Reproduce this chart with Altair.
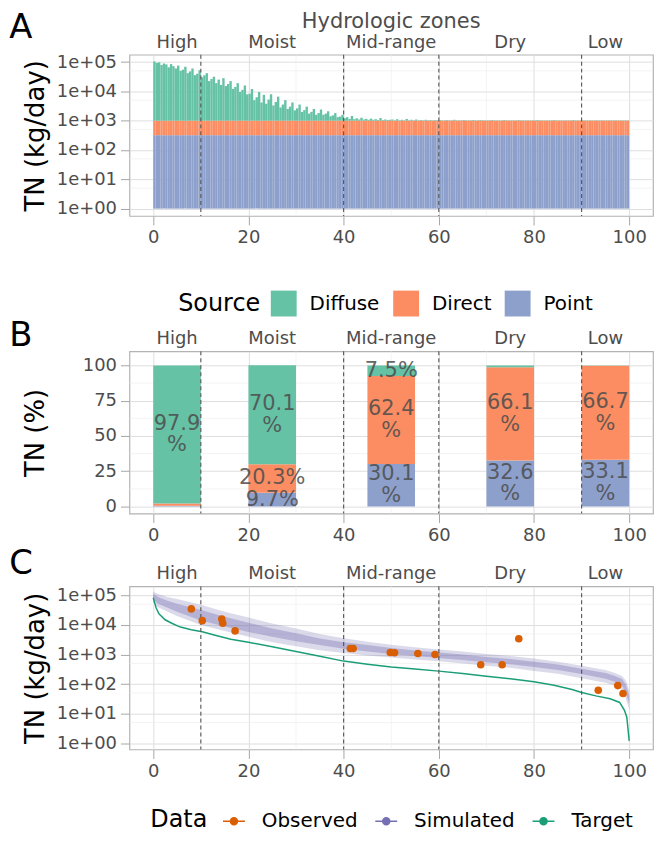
import altair as alt
import pandas as pd

# ---------------- data ----------------
zones = ["High", "Moist", "Mid-range", "Dry", "Low"]
zone_centers = [5, 25, 50, 75, 95]
zone_bounds = [10, 40, 60, 90]

x_major = [0, 20, 40, 60, 80, 100]
x_minor = [10, 30, 50, 70, 90]
log_major = [1, 10, 100, 1000, 10000, 100000]
log_minor = [5, 50, 500, 5000, 50000]
pct_major = [0, 25, 50, 75, 100]
pct_minor = [12.5, 37.5, 62.5, 87.5]

source_names = ["Diffuse", "Direct", "Point"]
source_colors = ["#66C2A5", "#FC8D62", "#8DA0CB"]

# Panel A: diffuse load top per half-percentile bin, as log10(kg/day)
bin_width = 0.5
diffuse_top_log10 = [
    5.02, 4.97, 4.99, 4.90, 4.95, 4.92, 4.82, 4.93, 4.86, 4.78,
    4.88, 4.70, 4.74, 4.84, 4.62, 4.68, 4.78, 4.55, 4.60, 4.72,
    4.48, 4.55, 4.62, 4.35, 4.42, 4.50, 4.28, 4.40, 4.22, 4.45,
    4.18, 4.25, 4.35, 4.08, 4.15, 4.28, 3.98, 4.05, 4.20, 3.90,
    3.92, 4.08, 3.70, 3.80, 3.98, 3.62, 3.88, 3.58, 3.72, 3.90,
    3.52, 3.64, 3.82, 3.45, 3.55, 3.70, 3.40, 3.48, 3.62, 3.35,
    3.42, 3.55, 3.30, 3.36, 3.48, 3.24, 3.30, 3.40, 3.20, 3.26,
    3.38, 3.20, 3.24, 3.32, 3.15, 3.18, 3.26, 3.12, 3.14, 3.20,
    3.08, 3.12, 3.06, 3.16, 3.05, 3.08, 3.04, 3.10, 3.04, 3.06,
    3.03, 3.07, 3.03, 3.05, 3.02, 3.09, 3.02, 3.04, 3.02, 3.03,
    3.04, 3.01, 3.05, 3.01, 3.03, 3.01, 3.06, 3.01, 3.03, 3.01,
    3.04, 3.01, 3.02, 3.01, 3.03, 3.01, 3.02, 3.01, 3.02, 3.01,
    3.02, 3.01, 3.01, 3.02, 3.01, 3.01, 3.03, 3.01, 3.01, 3.01,
    3.02, 3.01, 3.01, 3.01, 3.02, 3.01, 3.01, 3.02, 3.01, 3.01,
    3.01, 3.01, 3.02, 3.01, 3.01, 3.01, 3.01, 3.02, 3.01, 3.01,
    3.01, 3.01, 3.01, 3.02, 3.01, 3.01, 3.01, 3.01, 3.01, 3.01,
    3.01, 3.02, 3.01, 3.01, 3.01, 3.01, 3.01, 3.01, 3.02, 3.01,
    3.01, 3.01, 3.01, 3.01, 3.01, 3.01, 3.02, 3.01, 3.01, 3.01,
    3.01, 3.01, 3.01, 3.01, 3.01, 3.01, 3.01, 3.01, 3.01, 3.01,
    3.01, 3.01, 3.01, 3.01, 3.01, 3.01, 3.01, 3.01, 3.01, 3.01,
]
direct_top = 1000
point_top = 320
load_floor = 1

# Panel B: share of TN per zone (%)
point_share = [0.6, 9.7, 30.1, 32.6, 33.1]
direct_share = [1.5, 20.3, 62.4, 66.1, 66.7]
diffuse_share = [97.9, 70.1, 7.5, 1.3, 0.2]
point_label = ["", "9.7%", "30.1\n%", "32.6\n%", "33.1\n%"]
direct_label = ["", "20.3%", "62.4\n%", "66.1\n%", "66.7\n%"]
diffuse_label = ["97.9\n%", "70.1\n%", "7.5%", "", ""]

# Panel C
data_names = ["Observed", "Simulated", "Target"]
data_colors = ["#D95F02", "#7570B3", "#1B9E77"]
sim_pct = [0, 1, 3, 5, 10, 15, 20, 25, 30, 35, 40, 45, 50, 55, 60, 65, 70, 75, 80, 85,
           90, 95, 97, 98.5, 99.3, 100]
sim_low = [56000, 40000, 28000, 20000, 10000, 6300, 4000, 2600, 1900, 1410,
           1120, 930, 790, 680, 590, 500, 420, 355, 280, 224,
           158, 112, 89, 63, 32, 14]
sim_high = [132000, 112000, 89000, 76000, 48000, 28000, 17800, 11200, 7600, 5000,
            3550, 2700, 2140, 1780, 1480, 1260, 1050, 890, 740, 575,
            417, 302, 240, 190, 132, 63]
sim_core_low = [71000, 52000, 38000, 28000, 14100, 8900, 5800, 4000, 2800, 2100,
                1580, 1260, 1050, 890, 760, 660, 550, 470, 380, 300,
                219, 151, 120, 89, 50, 22]
sim_core_high = [112000, 89000, 66000, 52000, 32000, 19000, 12000, 7600, 5200, 3500,
                 2600, 2100, 1660, 1380, 1170, 1000, 830, 710, 575, 457,
                 331, 240, 190, 148, 95, 42]
target_pct = [0, 0.3, 0.6, 1.2, 2.5, 4, 5.7, 8, 10.3, 13,
              16.3, 20, 25, 30, 35, 40, 45, 50, 55, 60,
              65, 70, 75, 80, 84.2, 88, 90, 93, 96, 98,
              99, 99.5, 99.8, 100]
target_tn = [83000, 56000, 38000, 24000, 15000, 11200, 8500, 6900, 5900, 4500,
             3300, 2600, 1820, 1260, 870, 600, 470, 380, 324, 275,
             229, 186, 151, 120, 91, 66, 52, 40, 32, 24,
             13, 7.6, 2.5, 1.2]
obs_pct = [8.0, 10.3, 14.4, 14.6, 17.2, 41.4, 42.0, 49.8, 50.7, 55.6, 59.2,
           68.8, 73.3, 76.8, 93.5, 97.6, 98.7]
obs_tn = [35000, 14000, 16000, 11500, 6300, 1600, 1600, 1180, 1150, 1090, 1000,
          450, 450, 3400, 62, 89, 48]

# ---------------- styling ----------------
FONT = "DejaVu Sans"
GREY_TXT = "#4D4D4D"
W = 526
HA, HB, HC = 162, 163, 164
X_DOMAIN = [-5, 105]
A_DOMAIN = [10 ** -0.25, 10 ** 5.25]
B_DOMAIN = [-5, 110]
C_DOMAIN = [10 ** -0.21, 10 ** 5.31]
LOG_LABEL = "'1e+0' + format(log(datum.value) / LN10, '.0f')"
TITLE_X = -94
LETTER_X = -109


def x_enc(field):
    return alt.X(f"{field}:Q",
                 scale=alt.Scale(domain=X_DOMAIN, nice=False, zero=False),
                 axis=alt.Axis(values=x_major, format="d", title=None))


def make_y(domain, log, values, title, h):
    common = dict(values=values, title=title, titleX=TITLE_X, titleY=h / 2,
                  titleBaseline="middle", titleAlign="center")
    if log:
        scale = alt.Scale(type="log", domain=domain, nice=False)
        axis = alt.Axis(labelExpr=LOG_LABEL, **common)
    else:
        scale = alt.Scale(domain=domain, nice=False, zero=False)
        axis = alt.Axis(format="d", **common)

    def enc(field):
        return alt.Y(f"{field}:Q", scale=scale, axis=axis)
    return enc


def scaffold(y_enc, y_minor):
    xm = alt.Chart(pd.DataFrame({"gx": x_minor})).mark_rule(
        color="#EDEDED", strokeWidth=0.7).encode(x=x_enc("gx"))
    ym = alt.Chart(pd.DataFrame({"gy": y_minor})).mark_rule(
        color="#EDEDED", strokeWidth=0.7).encode(y=y_enc("gy"))
    return [xm, ym]


def overlays(letter, letter_y):
    dashes = alt.Chart(pd.DataFrame({"zb": zone_bounds})).mark_rule(
        color="#555555", strokeDash=[4, 3], strokeWidth=1.1).encode(x=x_enc("zb"))
    zl = alt.Chart(pd.DataFrame({"zc": zone_centers, "zone": zones})).mark_text(
        fontSize=18, color=GREY_TXT, baseline="middle", font=FONT).encode(
        x=x_enc("zc"), y=alt.value(-12), text="zone:N")
    let = alt.Chart(pd.DataFrame({"p": [letter]})).mark_text(
        fontSize=34, color="black", align="center", baseline="middle", font=FONT).encode(
        x=alt.value(LETTER_X), y=alt.value(letter_y), text="p:N")
    return dashes, zl, let


# ---------------- panel A ----------------
rows = []
for i, top_log in enumerate(diffuse_top_log10):
    x0, x1 = i * bin_width, (i + 1) * bin_width
    rows.append(dict(x0=x0, x1=x1, lo=load_floor, hi=point_top, Source="Point"))
    rows.append(dict(x0=x0, x1=x1, lo=point_top, hi=direct_top, Source="Direct"))
    rows.append(dict(x0=x0, x1=x1, lo=direct_top, hi=10 ** top_log, Source="Diffuse"))
dfA = pd.DataFrame(rows)

yA = make_y(A_DOMAIN, True, log_major, "TN (kg/day)", HA)
barsA = alt.Chart(dfA).mark_rect().encode(
    x=x_enc("x0"), x2="x1", y=yA("lo"), y2="hi",
    color=alt.Color("Source:N",
                    scale=alt.Scale(domain=source_names, range=source_colors),
                    legend=alt.Legend(orient="none", legendX=49, legendY=237,
                                      direction="horizontal", titleOrient="left",
                                      symbolType="square", symbolSize=676,
                                      symbolStrokeWidth=0, labelFontSize=20,
                                      titleFontSize=24, titleFontWeight="normal",
                                      titleColor="black", labelColor="black",
                                      titlePadding=10, labelOffset=13,
                                      columnPadding=13, titleBaseline="middle",
                                      titleAnchor="middle", labelFont=FONT,
                                      titleFont=FONT)))
dA, zA, lA = overlays("A", -27)
hydro = alt.Chart(pd.DataFrame({"t": ["Hydrologic zones"]})).mark_text(
    fontSize=21, color=GREY_TXT, baseline="middle", align="center", font=FONT).encode(
    x=alt.value(W / 2), y=alt.value(-33), text="t:N")
panel_a = alt.layer(*scaffold(yA, log_minor), barsA, dA, zA, lA, hydro).properties(
    width=W, height=HA)

# ---------------- panel B ----------------
brows = []
for z, c, p, d, f, pl, dl, fl in zip(zones, zone_centers, point_share, direct_share,
                                     diffuse_share, point_label, direct_label,
                                     diffuse_label):
    cum = 0.0
    for src, v, lbl in (("Point", p, pl), ("Direct", d, dl), ("Diffuse", f, fl)):
        brows.append(dict(zone=z, x0=c - 5, x1=c + 5, xc=c, lo=cum, hi=cum + v,
                          mid=cum + v / 2, Source=src, label=lbl,
                          lines=lbl.count("\n") + 1))
        cum += v
dfB = pd.DataFrame(brows)

yB = make_y(B_DOMAIN, False, pct_major, "TN (%)", HB)
barsB = alt.Chart(dfB).mark_rect().encode(
    x=x_enc("x0"), x2="x1", y=yB("lo"), y2="hi",
    color=alt.Color("Source:N",
                    scale=alt.Scale(domain=source_names, range=source_colors),
                    legend=None))
txt_style = dict(lineBreak="\n", fontSize=21, lineHeight=22, color="#4D4D4D",
                 opacity=0.85, baseline="middle", align="center", font=FONT)
text1 = alt.Chart(dfB[(dfB["label"] != "") & (dfB["lines"] == 1)]).mark_text(
    **txt_style).encode(x=x_enc("xc"), y=yB("mid"), text="label:N")
text2 = alt.Chart(dfB[dfB["lines"] == 2]).mark_text(dy=-11, **txt_style).encode(
    x=x_enc("xc"), y=yB("mid"), text="label:N")
dB, zB, lB = overlays("B", -15)
panel_b = alt.layer(*scaffold(yB, pct_minor), barsB, dB, text1, text2, zB, lB).properties(
    width=W, height=HB)

# ---------------- panel C ----------------
yC = make_y(C_DOMAIN, True, log_major, "TN (kg/day)", HC)
dfSim = pd.DataFrame({"pct": sim_pct, "low": sim_low, "high": sim_high,
                      "clow": sim_core_low, "chigh": sim_core_high})
dfTar = pd.DataFrame({"pct": target_pct, "tn": target_tn})
dfObs = pd.DataFrame({"pct": obs_pct, "tn": obs_tn})

sim = alt.Chart(dfSim).mark_area(color="#7570B3", opacity=0.26).encode(
    x=x_enc("pct"), y=yC("low"), y2="high")
sim_core = alt.Chart(dfSim).mark_area(color="#7570B3", opacity=0.38).encode(
    x=x_enc("pct"), y=yC("clow"), y2="chigh")
tar = alt.Chart(dfTar).mark_line(color="#1B9E77", strokeWidth=1.5).encode(
    x=x_enc("pct"), y=yC("tn"))
obs = alt.Chart(dfObs).mark_circle(color="#D95F02", opacity=1, size=58).encode(
    x=x_enc("pct"), y=yC("tn"))

LEG_PATH = "M-1,0H1M0.32,0A0.32,0.32 0 1,1 -0.32,0A0.32,0.32 0 1,1 0.32,0Z"
leg_params = dict(orient="none", legendX=21, legendY=224, direction="horizontal",
                  titleOrient="left", symbolType=LEG_PATH, symbolSize=484,
                  symbolStrokeWidth=1.5, labelFontSize=20, titleFontSize=24,
                  titleFontWeight="normal", titleColor="black", labelColor="black",
                  titlePadding=14, labelOffset=16, columnPadding=14,
                  titleBaseline="middle", titleAnchor="middle",
                  labelFont=FONT, titleFont=FONT, symbolOpacity=1)
legC = alt.Chart(pd.DataFrame({"Data": data_names})).mark_point(
    filled=True, opacity=1, size=40, clip=True).encode(
    x=alt.value(5), y=alt.value(-6),
    fill=alt.Fill("Data:N", scale=alt.Scale(domain=data_names, range=data_colors),
                  legend=alt.Legend(**leg_params)),
    stroke=alt.Stroke("Data:N", scale=alt.Scale(domain=data_names, range=data_colors),
                      legend=alt.Legend(**leg_params)))
dC, zC, lC = overlays("C", -22)
panel_c = alt.layer(*scaffold(yC, log_minor), sim, sim_core, tar, dC, obs, zC, lC,
                    legC).properties(width=W, height=HC)

chart = alt.vconcat(panel_a, panel_b, panel_c, spacing=1).resolve_scale(
    color="independent", fill="independent", stroke="independent"
).resolve_legend(
    color="independent", fill="independent", stroke="independent"
).properties(
    padding={"left": 0, "right": 0, "top": 0, "bottom": 0}
).configure(font=FONT).configure_view(
    stroke="#B3B3B3", strokeWidth=1.2
).configure_axis(
    labelFont=FONT, labelFontSize=18, labelColor=GREY_TXT, tickColor="#A6A6A6",
    tickSize=9, domain=False, gridColor="#DEDEDE", gridWidth=1, labelPadding=4,
    titleFont=FONT, titleFontSize=26, titleFontWeight="normal", titleColor="black"
)

chart.save("out.html", embed_options={"renderer": "svg", "actions": False})
